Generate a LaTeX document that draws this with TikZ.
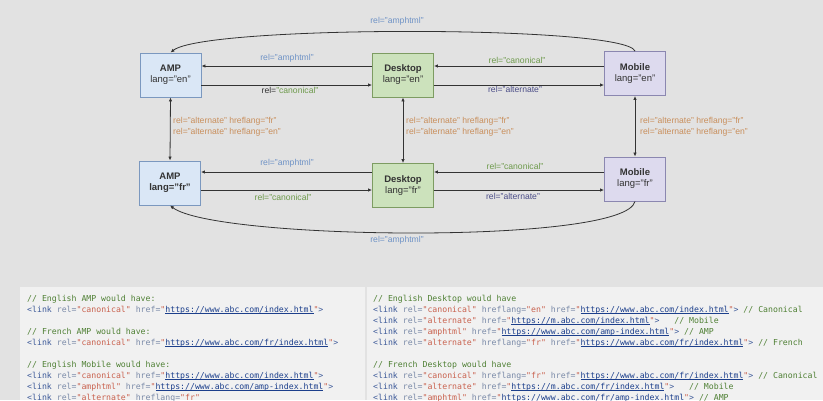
\documentclass[tikz,border=0pt]{standalone}
\usepackage{fontspec}
\setmainfont{Liberation Sans}
\newfontfamily\codefont{DejaVu Sans Mono}
\usetikzlibrary{arrows.meta}
\definecolor{bg}{HTML}{E2E2E2}
\definecolor{panel}{HTML}{F1F1F1}
\definecolor{ampfill}{HTML}{DAE7F6}
\definecolor{ampdraw}{HTML}{7B98BF}
\definecolor{dtfill}{HTML}{CCE2BC}
\definecolor{dtdraw}{HTML}{7D9C62}
\definecolor{mobfill}{HTML}{DDDAEE}
\definecolor{mobdraw}{HTML}{8B87B0}
\definecolor{lblue}{HTML}{6F93C6}
\definecolor{lgreen}{HTML}{6E9A4C}
\definecolor{lpurple}{HTML}{4C4E88}
\definecolor{lorange}{HTML}{C98F5C}
\definecolor{ldark}{HTML}{333333}
\definecolor{cgreen}{HTML}{4F8034}
\definecolor{cblue}{HTML}{3D5A99}
\definecolor{cattr}{HTML}{7A8AA8}
\definecolor{cstr}{HTML}{C9624F}
\definecolor{curl}{HTML}{1C3F8C}
\newcommand\cm[1]{\textcolor{cgreen}{#1}}
\newcommand\tg[1]{\textcolor{cblue}{#1}}
\newcommand\at[1]{\textcolor{cattr}{#1}}
\newcommand\st[1]{\textcolor{cstr}{#1}}
\newcommand\ur[1]{\textcolor{curl}{\setbox0\hbox{#1}\rlap{\rule[-1.4pt]{\wd0}{0.55pt}}\box0}}
\tikzset{
  pagebox/.style={draw, line width=0.9pt, minimum width=61pt, minimum height=44pt, inner sep=1pt, align=center, font=\fontsize{9.5}{11}\selectfont, text=ldark},
  ampbox/.style={pagebox, fill=ampfill, draw=ampdraw},
  dtbox/.style={pagebox, fill=dtfill, draw=dtdraw},
  mobbox/.style={pagebox, fill=mobfill, draw=mobdraw},
  conn/.style={draw=ldark, line width=0.8pt, -{Latex[length=4pt,width=3.5pt]}},
  dconn/.style={draw=ldark, line width=0.8pt, {Latex[length=4pt,width=3.5pt]}-{Latex[length=4pt,width=3.5pt]}},
  lbl/.style={font=\fontsize{8.6}{10.5}\selectfont, inner sep=0pt},
  vlbl/.style={lbl, text=lorange, align=left, anchor=west},
  code/.style={font=\codefont\fontsize{8.2}{11}\selectfont, anchor=base west, inner sep=0pt},
}
\begin{document}
\begin{tikzpicture}[x=1pt,y=-1pt]
\useasboundingbox (0,0) rectangle (823,400);
\clip (0,0) rectangle (823,400);
\fill[bg] (0,0) rectangle (823,400);
% code panels
\fill[panel] (20,287) rectangle (365,400);
\fill[panel] (367,287) rectangle (823,400);

% boxes
\node[ampbox] (ampen) at (170.5,75) {\textbf{AMP}\\lang="en"};
\node[dtbox]  (dten)  at (403,75)   {\textbf{Desktop}\\lang="en"};
\node[mobbox] (moben) at (635,73.5) {\textbf{Mobile}\\lang="en"};
\node[ampbox] (ampfr) at (170,183)  {\textbf{AMP}\\\textbf{lang="fr"}};
\node[dtbox]  (dtfr)  at (403,185.5){\textbf{Desktop}\\lang="fr"};
\node[mobbox] (mobfr) at (635,179)  {\textbf{Mobile}\\lang="fr"};

% top row connectors
\draw[conn] (dten.west |- 0,66) -- (ampen.east |- 0,66);
\draw[conn] (ampen.east |- 0,85) -- (dten.west |- 0,85);
\draw[conn] (moben.west |- 0,66) -- (dten.east |- 0,66);
\draw[conn] (dten.east |- 0,85) -- (moben.west |- 0,85);
% bottom row connectors
\draw[conn] (dtfr.west |- 0,172) -- (ampfr.east |- 0,172);
\draw[conn] (ampfr.east |- 0,190) -- (dtfr.west |- 0,190);
\draw[conn] (mobfr.west |- 0,172) -- (dtfr.east |- 0,172);
\draw[conn] (dtfr.east |- 0,190) -- (mobfr.west |- 0,190);
% vertical connectors
\draw[dconn] (ampen.south) -- (ampfr.north);
\draw[dconn] (dten.south) -- (dtfr.north);
\draw[dconn] (moben.south) -- (mobfr.north);
% curves
\draw[conn] (moben.north) .. controls (625,25) and (205,25) .. (ampen.north);
\draw[conn] (mobfr.south) .. controls (625,245) and (215,240) .. (ampfr.south);

% labels
\node[lbl, text=lblue] (lc1) at (397,21) {rel="amphtml"};
\node[lbl, text=lblue] (lc2) at (397,240) {rel="amphtml"};
\node[lbl, text=lblue] (l1) at (287,58) {rel="amphtml"};
\node[lbl] (l2) at (290,90) {\textcolor{ldark}{rel=}\textcolor{lgreen}{"canonical"}};
\node[lbl, text=lgreen] (l3) at (517,60) {rel="canonical"};
\node[lbl, text=lpurple] (l4) at (515,89) {rel="alternate"};
\node[lbl, text=lblue] (l5) at (287,163) {rel="amphtml"};
\node[lbl, text=lgreen] (l6) at (283,197) {rel="canonical"};
\node[lbl, text=lgreen] (l7) at (515,166) {rel="canonical"};
\node[lbl, text=lpurple] (l8) at (513,196) {rel="alternate"};
\node[vlbl] (v1) at (173,127) {rel="alternate" hreflang="fr"\\rel="alternate" hreflang="en"};
\node[vlbl] (v2) at (406,127) {rel="alternate" hreflang="fr"\\rel="alternate" hreflang="en"};
\node[vlbl] (v3) at (640,127) {rel="alternate" hreflang="fr"\\rel="alternate" hreflang="en"};

% left code
\node[code] (a1) at (27,301) {\cm{// English AMP would have:}};
\node[code] (a2) at (27,312) {\tg{<link} \at{rel=}\st{"canonical"} \at{href=}\st{"}\ur{https://www.abc.com/index.html}\st{"}\tg{>}};
\node[code] (a3) at (27,334) {\cm{// French AMP would have:}};
\node[code] (a4) at (27,345) {\tg{<link} \at{rel=}\st{"canonical"} \at{href=}\st{"}\ur{https://www.abc.com/fr/index.html}\st{"}\tg{>}};
\node[code] (a5) at (27,367) {\cm{// English Mobile would have:}};
\node[code] (a6) at (27,378) {\tg{<link} \at{rel=}\st{"canonical"} \at{href=}\st{"}\ur{https://www.abc.com/index.html}\st{"}\tg{>}};
\node[code] (a7) at (27,389) {\tg{<link} \at{rel=}\st{"amphtml"} \at{href=}\st{"}\ur{https://www.abc.com/amp-index.html}\st{"}\tg{>}};
\node[code] (a8) at (27,400) {\tg{<link} \at{rel=}\st{"alternate"} \at{hreflang=}\st{"fr"}};
% right code
\node[code] (b1) at (373,301) {\cm{// English Desktop would have}};
\node[code] (b2) at (373,312) {\tg{<link} \at{rel=}\st{"canonical"} \at{hreflang=}\st{"en"} \at{href=}\st{"}\ur{https://www.abc.com/index.html}\st{"}\tg{>} \cm{// Canonical}};
\node[code] (b3) at (373,323) {\tg{<link} \at{rel=}\st{"alternate"} \at{href=}\st{"}\ur{https://m.abc.com/index.html}\st{"}\tg{>}\ \ \ \cm{// Mobile}};
\node[code] (b4) at (373,334) {\tg{<link} \at{rel=}\st{"amphtml"} \at{href=}\st{"}\ur{https://www.abc.com/amp-index.html}\st{"}\tg{>} \cm{// AMP}};
\node[code] (b5) at (373,345) {\tg{<link} \at{rel=}\st{"alternate"} \at{hreflang=}\st{"fr"} \at{href=}\st{"}\ur{https://www.abc.com/fr/index.html}\st{"}\tg{>} \cm{// French}};
\node[code] (b6) at (373,367) {\cm{// French Desktop would have}};
\node[code] (b7) at (373,378) {\tg{<link} \at{rel=}\st{"canonical"} \at{hreflang=}\st{"fr"} \at{href=}\st{"}\ur{https://www.abc.com/fr/index.html}\st{"}\tg{>} \cm{// Canonical}};
\node[code] (b8) at (373,389) {\tg{<link} \at{rel=}\st{"alternate"} \at{href=}\st{"}\ur{https://m.abc.com/fr/index.html}\st{"}\tg{>}\ \ \ \cm{// Mobile}};
\node[code] (b9) at (373,400) {\tg{<link} \at{rel=}\st{"amphtml"} \at{href=}\st{"}\ur{https://www.abc.com/fr/amp-index.html}\st{"}\tg{>} \cm{// AMP}};
\end{tikzpicture}
\end{document}
